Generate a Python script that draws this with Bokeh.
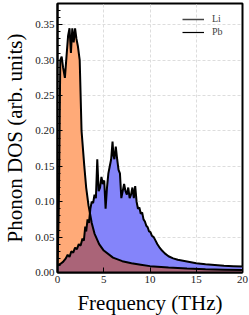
import numpy as np
from bokeh.plotting import figure
from bokeh.models import Range1d, FixedTicker, Legend, LegendItem, CustomJSTickFormatter
from bokeh.embed import file_html
from bokeh.resources import INLINE

# Pb (low-frequency, orange)
pb_freq = [0.0, 0.15, 0.3, 0.45, 0.6, 0.8, 1.0, 1.15, 1.3, 1.45, 1.6, 1.75, 1.9, 2.05, 2.2, 2.4,
           2.6, 2.9, 3.1, 3.35, 3.7, 4.0, 4.5, 5.0, 6.0, 7.0, 8.0, 9.0, 10.0, 12.0, 14.0, 16.0, 18.0, 20.0]
pb_dos = [0.0, 0.10, 0.30, 0.305, 0.29, 0.275, 0.31, 0.335, 0.345, 0.31, 0.345, 0.325, 0.345, 0.33, 0.32, 0.30,
          0.20, 0.15, 0.12, 0.095, 0.07, 0.055, 0.04, 0.031, 0.021, 0.016, 0.013, 0.011, 0.009, 0.007, 0.0055, 0.0045, 0.004, 0.0035]

# Li (high-frequency, blue)
li_freq = [0.0, 0.3, 0.6, 0.9, 1.1, 1.3, 1.5, 1.7, 1.9, 2.1, 2.3, 2.5, 2.7, 2.85, 3.0, 3.1, 3.25, 3.4, 3.55,
           3.7, 3.85, 4.0, 4.15, 4.3, 4.45, 4.6, 4.75, 4.9, 5.05, 5.2, 5.35, 5.5, 5.65, 5.8, 5.95, 6.05,
           6.15, 6.3, 6.45, 6.6, 6.75, 6.9, 7.05, 7.2, 7.35, 7.5, 7.65, 7.8, 7.95, 8.1, 8.25, 8.4, 8.55,
           8.7, 8.85, 9.0, 9.15, 9.3, 9.45, 9.6, 9.75, 9.9, 10.05, 10.2, 10.4, 10.6, 10.8, 11.0, 11.3,
           11.6, 12.0, 12.5, 13.0, 14.0, 15.0, 16.0, 17.0, 18.0, 19.0, 20.0]
li_dos = [0.01, 0.012, 0.015, 0.02, 0.025, 0.022, 0.03, 0.028, 0.035, 0.033, 0.04, 0.038, 0.048, 0.045,
          0.065, 0.058, 0.075, 0.07, 0.09, 0.10, 0.098, 0.11, 0.105, 0.16, 0.115, 0.12, 0.135, 0.125,
          0.13, 0.09, 0.12, 0.14, 0.15, 0.16, 0.185, 0.165, 0.16, 0.178, 0.16, 0.145, 0.14, 0.105,
          0.115, 0.125, 0.115, 0.11, 0.12, 0.105, 0.11, 0.12, 0.105, 0.122, 0.1, 0.09, 0.092, 0.083,
          0.085, 0.075, 0.072, 0.066, 0.064, 0.058, 0.057, 0.052, 0.05, 0.045, 0.04, 0.036, 0.031,
          0.027, 0.023, 0.02, 0.018, 0.0155, 0.013, 0.0115, 0.0105, 0.0095, 0.009, 0.0085]

x_ticks = [0, 5, 10, 15, 20]
y_ticks = [0.0, 0.05, 0.10, 0.15, 0.20, 0.25, 0.30, 0.35]

SERIF = "Liberation Serif"

p = figure(frame_width=185, frame_height=269, output_backend="svg", toolbar_location=None,
           x_range=Range1d(0, 20), y_range=Range1d(0, 0.38),
           min_border_left=54, min_border_right=10, min_border_top=3, min_border_bottom=43)

grid = np.union1d(pb_freq, li_freq)
pb_g = np.interp(grid, pb_freq, pb_dos)
li_g = np.interp(grid, li_freq, li_dos)
ov = np.minimum(pb_g, li_g)

p.varea(x=pb_freq, y1=0, y2=pb_dos, fill_color="#FFAA78")
p.varea(x=li_freq, y1=0, y2=li_dos, fill_color="#8484FA")
p.varea(x=grid, y1=0, y2=ov, fill_color="#AA6478")

p.line(pb_freq, pb_dos, line_color="black", line_width=2)
p.line(li_freq, li_dos, line_color="black", line_width=2)

l_li = p.line([np.nan], [np.nan], line_color="#444444", line_width=1.5)
l_pb = p.line([np.nan], [np.nan], line_color="black", line_width=1.2)
legend = Legend(items=[LegendItem(label="Li", renderers=[l_li]),
                       LegendItem(label="Pb", renderers=[l_pb])],
                location="top_right", background_fill_alpha=0, border_line_alpha=0,
                label_text_font=SERIF, label_text_font_size="10px",
                glyph_width=22, glyph_height=10, label_standoff=8, spacing=2,
                padding=4, margin=6, label_height=10)
p.add_layout(legend)

p.xaxis.ticker = FixedTicker(ticks=x_ticks, minor_ticks=[])
p.yaxis.ticker = FixedTicker(ticks=y_ticks, minor_ticks=list(np.round(np.arange(0, 0.38, 0.01), 3)))
p.yaxis.formatter = CustomJSTickFormatter(code="return tick.toFixed(2);")

for ax in (p.xaxis[0], p.yaxis[0]):
    ax.major_tick_in = 5
    ax.major_tick_out = 0
    ax.minor_tick_in = 3
    ax.minor_tick_out = 0
    ax.axis_line_width = 2
    ax.axis_line_color = "black"
    ax.major_label_text_font = SERIF
    ax.major_label_text_font_size = "11px"
    ax.major_label_text_color = "#222222"
    ax.axis_label_text_font = SERIF
    ax.axis_label_text_font_size = "21px"
    ax.axis_label_text_font_style = "normal"
    ax.axis_label_text_color = "black"
    ax.major_label_standoff = 3

p.xaxis.axis_label = "Frequency (THz)"
p.yaxis.axis_label = "Phonon DOS (arb. units)"
p.xaxis.axis_label_standoff = 5
p.yaxis.axis_label_standoff = 5

p.outline_line_color = "black"
p.outline_line_width = 2
p.outline_line_alpha = 1

p.xgrid.grid_line_color = "#dddddd"
p.ygrid.grid_line_color = "#dddddd"
p.xgrid.grid_line_dash = "3 2"
p.ygrid.grid_line_dash = "3 2"
p.background_fill_color = "white"
p.border_fill_color = "white"

open("out.html", "w").write(file_html(p, INLINE))
